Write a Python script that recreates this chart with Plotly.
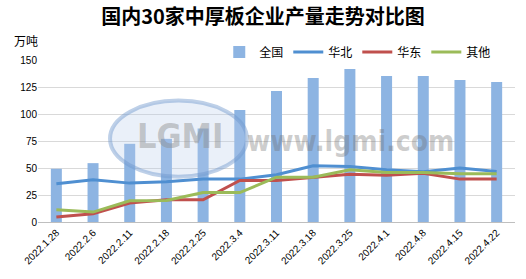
import plotly.graph_objects as go

dates = ["2022.1.28", "2022.2.6", "2022.2.11", "2022.2.18", "2022.2.25", "2022.3.4",
         "2022.3.11", "2022.3.18", "2022.3.25", "2022.4.1", "2022.4.8", "2022.4.15", "2022.4.22"]
quanguo = [49.3, 54.5, 72.4, 77, 86.5, 103.8, 121.3, 133.3, 141.7, 135.2, 135.2, 131.5, 129.6]
huabei = [35.4, 39, 36, 37.2, 39.7, 39.7, 43.7, 52, 51.4, 48.3, 46.5, 49.9, 46.8]
huadong = [4.6, 7.7, 17.5, 20.6, 20.6, 38.5, 38.5, 41.3, 44.3, 43.4, 45.2, 39.7, 39.7]
qita = [11.4, 9.2, 19.7, 20, 27.3, 27.3, 41.5, 41.5, 48.3, 45.9, 45.9, 44.7, 44.7]
yticks = [0, 25, 50, 75, 100, 125, 150]

font_cn = "Noto Sans CJK SC"
font_num = "Liberation Sans"

fig = go.Figure()
fig.add_trace(go.Bar(x=dates, y=quanguo, name="全国", marker=dict(color="#8DB4E2", line=dict(width=0)),
                     width=0.3))
fig.add_trace(go.Scatter(x=dates, y=huabei, name="华北", mode="lines", line=dict(color="#4F8FD1", width=3)))
fig.add_trace(go.Scatter(x=dates, y=huadong, name="华东", mode="lines", line=dict(color="#C0504D", width=3)))
fig.add_trace(go.Scatter(x=dates, y=qita, name="其他", mode="lines", line=dict(color="#9BBB59", width=3)))

fig.update_layout(
    width=526, height=279,
    margin=dict(l=38, r=11, t=60, b=57),
    paper_bgcolor="white", plot_bgcolor="white",
    title=dict(text="<b>国内30家中厚板企业产量走势对比图</b>", x=0.5, xanchor="center", y=0.94, yanchor="middle",
               font=dict(family=font_cn, size=20, color="#000000")),
    legend=dict(orientation="h", x=0.38, xanchor="left", y=1.05, yanchor="middle",
                font=dict(family=font_cn, size=12, color="#000000"), itemwidth=30,
                traceorder="normal", bgcolor="rgba(0,0,0,0)", tracegroupgap=0),
    showlegend=True,
)
fig.update_yaxes(range=[0, 150], tickvals=yticks, showgrid=True, gridcolor="#D9D9D9", gridwidth=1,
                 zeroline=True, zerolinecolor="#BFBFBF", zerolinewidth=1,
                 tickfont=dict(family=font_num, size=10, color="#000000"), ticks="", ticklen=0)
fig.update_xaxes(type="category", tickangle=-45, showgrid=False, showline=True, linecolor="#BFBFBF",
                 tickfont=dict(family=font_num, size=10, color="#000000"), ticks="")

fig.add_annotation(text="万吨", xref="paper", yref="paper", x=-0.055, y=1.12, xanchor="left", yanchor="middle",
                   showarrow=False, font=dict(family=font_cn, size=12, color="#000000"))
fig.add_shape(type="circle", xref="paper", yref="paper", x0=0.151, x1=0.438, y0=0.28, y1=0.75,
              line=dict(color="rgba(110,150,205,0.45)", width=4), fillcolor="rgba(185,205,235,0.3)", layer="above")
fig.add_annotation(text="<b>LGMI</b>", xref="paper", yref="paper", x=0.298, y=0.53, xanchor="center",
                   yanchor="middle", showarrow=False,
                   font=dict(family="DejaVu Sans Condensed", size=34, color="rgba(140,140,140,0.45)"))
fig.add_annotation(text="<b>www.lgmi.com</b>", xref="paper", yref="paper", x=0.655, y=0.5, xanchor="center",
                   yanchor="middle", showarrow=False,
                   font=dict(family="DejaVu Sans Condensed", size=28, color="rgba(110,110,110,0.35)"))

fig.write_html("out.html")
